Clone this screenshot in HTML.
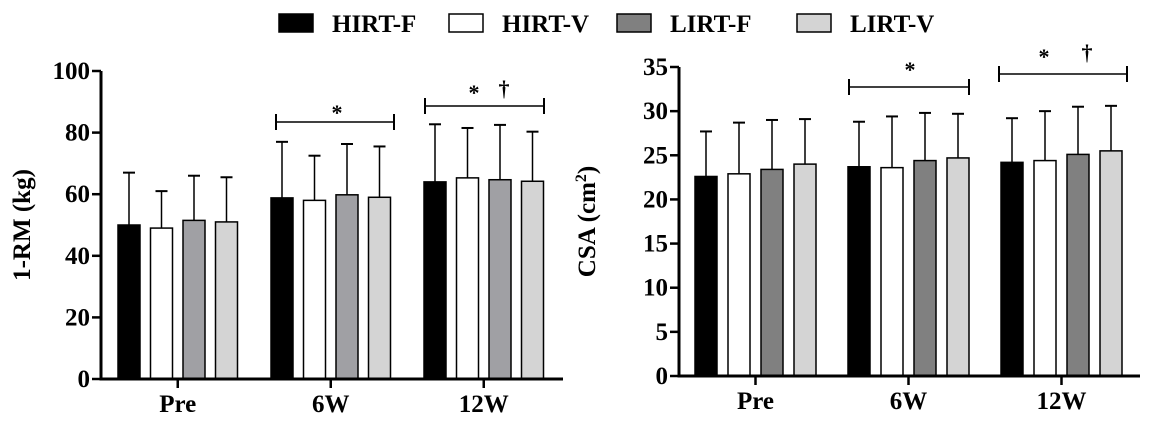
<!DOCTYPE html>
<html><head><meta charset="utf-8"><style>
body{margin:0;background:#fff;}
svg text{font-family:"Liberation Serif",serif;font-weight:bold;fill:#000;}
</style></head><body>
<svg id="c" width="1158" height="424" xmlns="http://www.w3.org/2000/svg"></svg>
<script>
const groups = ["Pre","6W","12W"];
const seriesNames = ["HIRT-F","HIRT-V","LIRT-F","LIRT-V"];
const rmMeans = [[50,58.8,64],[49,58,65.3],[51.5,59.8,64.7],[51,59,64.2]];
const rmUpper = [[67,77,82.7],[61,72.5,81.5],[66,76.3,82.5],[65.5,75.5,80.3]];
const rmTicks = [0,20,40,60,80,100];
const csaMeans = [[22.6,23.7,24.2],[22.9,23.6,24.4],[23.4,24.4,25.1],[24,24.7,25.5]];
const csaUpper = [[27.7,28.8,29.2],[28.7,29.4,30],[29,29.8,30.5],[29.1,29.7,30.6]];
const csaTicks = [0,5,10,15,20,25,30,35];

const NS="http://www.w3.org/2000/svg";
const svg=document.getElementById('c');
function mk(tag,attrs,parent){const e=document.createElementNS(NS,tag);for(const k in attrs)e.setAttribute(k,attrs[k]);(parent||svg).appendChild(e);return e;}
function txt(s,attrs,parent){const e=mk('text',attrs,parent);e.textContent=s;return e;}

// legend
const legFill=["#000","#fff","#808080","#d4d4d4"];
const legX=[279,449,617,797];
seriesNames.forEach((n,i)=>{
  const g=mk('g',{});
  
  
  mk('rect',{x:legX[i],y:14,width:34,height:18,fill:legFill[i],stroke:"#000","stroke-width":1.5},g);
  txt(n,{x:legX[i]+53,y:32,"font-size":25},g);
});

function chart(cfg){
  const g=mk('g',{});
  
  
  const y=v=>cfg.y0-(v-cfg.min)/(cfg.max-cfg.min)*(cfg.y0-cfg.yTop);
  cfg.means.forEach((arr,s)=>{
    arr.forEach((v,gi)=>{
      const x=cfg.x0+gi*cfg.groupStep+s*cfg.barStep;
      const cx=x+cfg.barW/2;
      const eb=mk('line',{x1:cx,x2:cx,y1:y(v),y2:y(cfg.upper[s][gi]),stroke:"#000","stroke-width":1.5},g);
      
      
      mk('line',{x1:cx-6,x2:cx+6,y1:y(cfg.upper[s][gi]),y2:y(cfg.upper[s][gi]),stroke:"#000","stroke-width":2},g);
      const r=mk('rect',{x:x,y:y(v),width:cfg.barW,height:cfg.y0-y(v),fill:cfg.fills[s],stroke:"#000","stroke-width":1.5},g);
      
      
    });
  });
  const ya=mk('line',{x1:cfg.ax,x2:cfg.ax,y1:cfg.yTop,y2:cfg.y0+1.5,stroke:"#000","stroke-width":3},g);
  
  
  const xa=mk('line',{x1:cfg.ax-1.5,x2:cfg.xEnd,y1:cfg.y0,y2:cfg.y0,stroke:"#000","stroke-width":3},g);
  
  
  cfg.ticks.forEach(t=>{
    mk('line',{x1:cfg.ax-9,x2:cfg.ax,y1:y(t),y2:y(t),stroke:"#000","stroke-width":2.5},g);
    const l=txt(String(t),{x:cfg.ax-11,y:y(t)+8,"text-anchor":"end","font-size":25},g);
    
    
  });
  groups.forEach((gn,gi)=>{
    const cx=cfg.x0+gi*cfg.groupStep+(3*cfg.barStep+cfg.barW)/2;
    mk('line',{x1:cx,x2:cx,y1:cfg.y0,y2:cfg.y0+9,stroke:"#000","stroke-width":2.5},g);
    const l=txt(gn,{x:cx,y:cfg.y0+33,"text-anchor":"middle","font-size":25},g);
    
    
  });
  const t=txt(cfg.title,{x:0,y:0,"text-anchor":"middle","font-size":25,transform:`translate(${cfg.titleX},${(cfg.y0+cfg.yTop)/2}) rotate(-90)`},g);
  
  
  if(cfg.sup){const ts=document.createElementNS(NS,'tspan');ts.setAttribute('dy','-9');ts.setAttribute('font-size','16');ts.textContent='2';t.appendChild(ts);const t2=document.createElementNS(NS,'tspan');t2.setAttribute('dy','9');t2.textContent=')';t.appendChild(t2);}
  cfg.brackets.forEach(b=>{
    const bg=mk('g',{},g);
    
    
    mk('line',{x1:b.x1,x2:b.x2,y1:b.y,y2:b.y,stroke:"#000","stroke-width":1.5},bg);
    mk('line',{x1:b.x1,x2:b.x1,y1:b.y-8,y2:b.y+8,stroke:"#000","stroke-width":2},bg);
    mk('line',{x1:b.x2,x2:b.x2,y1:b.y-8,y2:b.y+8,stroke:"#000","stroke-width":2},bg);
    b.marks.forEach(m=>txt(m[0],{x:m[1],y:m[2],"text-anchor":"middle","font-size":22},bg));
  });
}

chart({name:"rm-chart",means:rmMeans,upper:rmUpper,ticks:rmTicks,min:0,max:100,y0:379,yTop:71,ax:101,xEnd:563,
  x0:118,barW:22,barStep:32.5,groupStep:153,fills:["#000","#fff","#a0a0a4","#d4d4d4"],
  title:"1-RM (kg)",titleX:30,sup:false,
  brackets:[{x1:276,x2:394,y:122,marks:[["*",337,120]]},{x1:425,x2:544,y:106,marks:[["*",474,100],["†",504,96]]}]});
chart({name:"csa-chart",means:csaMeans,upper:csaUpper,ticks:csaTicks,min:0,max:35,y0:376,yTop:67,ax:679,xEnd:1140,
  x0:695,barW:22,barStep:33,groupStep:153,fills:["#000","#fff","#808080","#d4d4d4"],
  title:"CSA (cm",titleX:595,sup:true,
  brackets:[{x1:849,x2:969,y:87,marks:[["*",910,77]]},{x1:999,x2:1127,y:74,marks:[["*",1044,64],["†",1087,60]]}]});
</script>
</body></html>
